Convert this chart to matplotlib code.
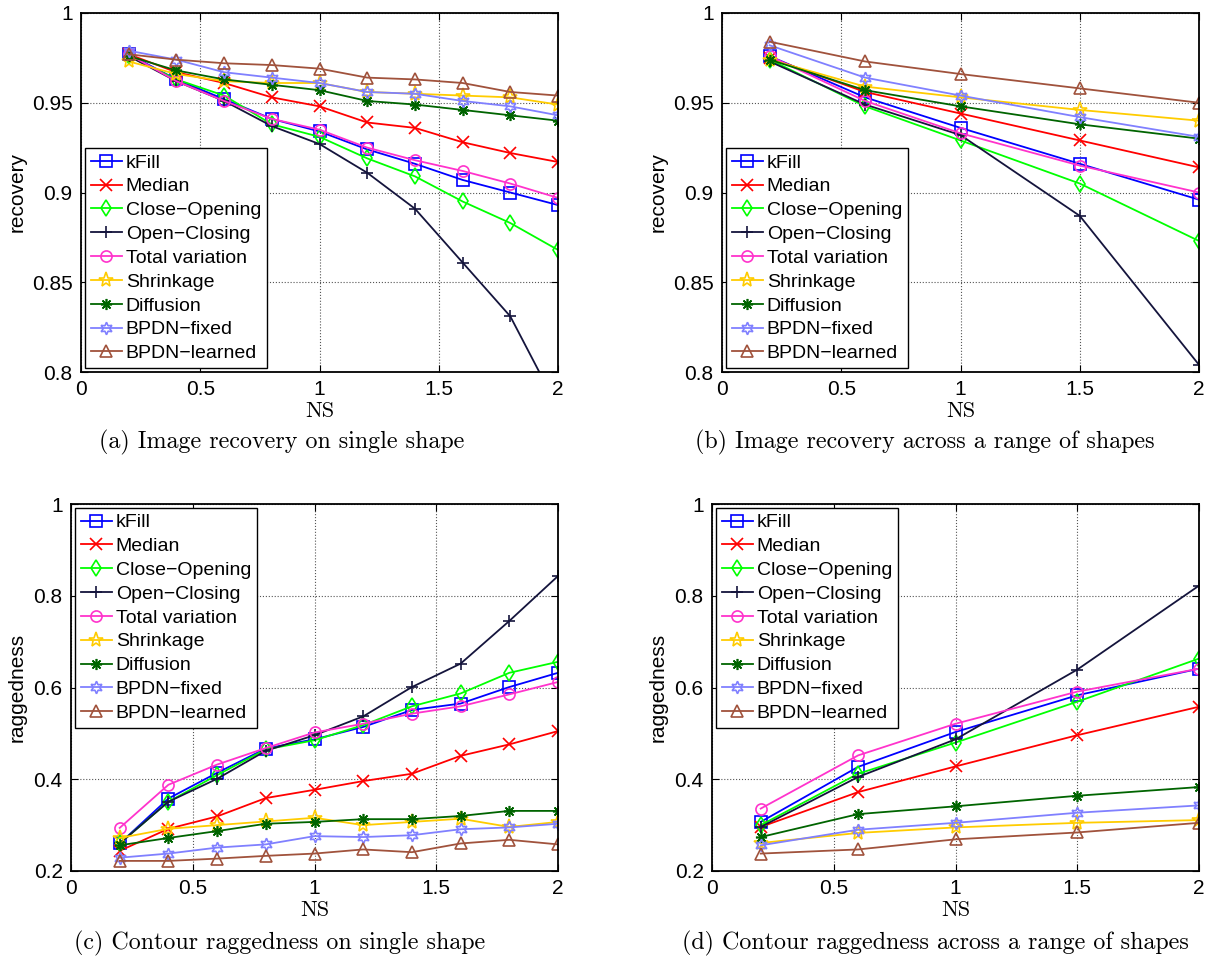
import numpy as np
import matplotlib
matplotlib.use('Agg')
import matplotlib.pyplot as plt
from matplotlib.ticker import FormatStrFormatter, MultipleLocator

plt.rcParams['font.family'] = ['Liberation Sans', 'DejaVu Sans']
plt.rcParams['axes.unicode_minus'] = True

# Data
methods = ['kFill', 'Median', 'Close\u2212Opening', 'Open\u2212Closing', 'Total variation',
           'Shrinkage', 'Diffusion', 'BPDN\u2212fixed', 'BPDN\u2212learned']
colors = ['#0000FF', '#FF0000', '#00FF00', '#14143C', '#FF33CC',
          '#FFCC00', '#006400', '#8080FF', '#A0523C']
markers = ['s', 'x', 'd', '+', 'o', '*', (8, 2, 0), (6, 1, 0), '^']
msizes = [8, 8, 8, 9, 8, 11, 8, 9, 9]

ns_single = [0.2, 0.4, 0.6, 0.8, 1.0, 1.2, 1.4, 1.6, 1.8, 2.0]
ns_range = [0.2, 0.6, 1.0, 1.5, 2.0]

recovery_single = [
    [0.977, 0.963, 0.952, 0.941, 0.934, 0.924, 0.916, 0.907, 0.900, 0.893],
    [0.977, 0.967, 0.961, 0.953, 0.948, 0.939, 0.936, 0.928, 0.922, 0.917],
    [0.976, 0.963, 0.954, 0.938, 0.931, 0.919, 0.909, 0.895, 0.883, 0.868],
    [0.976, 0.962, 0.951, 0.937, 0.927, 0.911, 0.891, 0.861, 0.831, 0.780],
    [0.977, 0.962, 0.951, 0.941, 0.935, 0.925, 0.918, 0.912, 0.905, 0.897],
    [0.973, 0.966, 0.962, 0.961, 0.961, 0.956, 0.955, 0.954, 0.953, 0.949],
    [0.976, 0.968, 0.963, 0.960, 0.957, 0.951, 0.949, 0.946, 0.943, 0.940],
    [0.979, 0.974, 0.967, 0.964, 0.961, 0.956, 0.955, 0.951, 0.948, 0.943],
    [0.977, 0.974, 0.972, 0.971, 0.969, 0.964, 0.963, 0.961, 0.956, 0.954],
]
recovery_range = [
    [0.976, 0.953, 0.936, 0.916, 0.896],
    [0.975, 0.956, 0.944, 0.929, 0.914],
    [0.974, 0.948, 0.929, 0.905, 0.873],
    [0.973, 0.949, 0.932, 0.887, 0.804],
    [0.976, 0.951, 0.933, 0.915, 0.900],
    [0.974, 0.959, 0.953, 0.946, 0.940],
    [0.974, 0.957, 0.948, 0.938, 0.930],
    [0.982, 0.964, 0.954, 0.942, 0.931],
    [0.984, 0.973, 0.966, 0.958, 0.950],
]
ragged_single = [
    [0.260, 0.358, 0.414, 0.467, 0.487, 0.514, 0.551, 0.565, 0.601, 0.632],
    [0.244, 0.292, 0.319, 0.359, 0.377, 0.396, 0.412, 0.451, 0.476, 0.505],
    [0.260, 0.351, 0.409, 0.465, 0.485, 0.518, 0.559, 0.587, 0.632, 0.656],
    [0.260, 0.351, 0.401, 0.462, 0.496, 0.537, 0.601, 0.652, 0.745, 0.843],
    [0.294, 0.388, 0.432, 0.468, 0.502, 0.521, 0.543, 0.559, 0.585, 0.612],
    [0.272, 0.292, 0.300, 0.308, 0.316, 0.300, 0.307, 0.314, 0.296, 0.307],
    [0.256, 0.272, 0.287, 0.303, 0.307, 0.313, 0.313, 0.320, 0.331, 0.331],
    [0.229, 0.238, 0.251, 0.258, 0.276, 0.274, 0.278, 0.291, 0.295, 0.303],
    [0.222, 0.222, 0.227, 0.233, 0.238, 0.247, 0.241, 0.260, 0.268, 0.258],
]
ragged_range = [
    [0.307, 0.427, 0.503, 0.583, 0.641],
    [0.296, 0.372, 0.428, 0.496, 0.558],
    [0.300, 0.412, 0.480, 0.569, 0.663],
    [0.296, 0.405, 0.487, 0.639, 0.822],
    [0.336, 0.452, 0.521, 0.591, 0.641],
    [0.261, 0.283, 0.295, 0.305, 0.311],
    [0.274, 0.324, 0.341, 0.364, 0.383],
    [0.256, 0.290, 0.305, 0.327, 0.343],
    [0.238, 0.247, 0.269, 0.284, 0.305],
]

captions = ['(a) Image recovery on single shape',
            '(b) Image recovery across a range of shapes',
            '(c) Contour raggedness on single shape',
            '(d) Contour raggedness across a range of shapes']

W, H = 1216, 961
fig = plt.figure(figsize=(W / 100, H / 100), dpi=100)


def px_axes(left, top, right, bottom):
    return fig.add_axes([left / W, 1 - bottom / H, (right - left) / W, (bottom - top) / H])


def draw_panel(ax, xs, series, ylim, ystep, ylabel, legend_loc, ylabel_x, xlabel_y):
    for vals, name, c, m, ms in zip(series, methods, colors, markers, msizes):
        ax.plot(xs, vals, color=c, marker=m, markersize=ms, markerfacecolor='none',
                markeredgecolor=c, markeredgewidth=1.2, linewidth=1.3, label=name)
    ax.set_xlim(0, 2)
    ax.set_ylim(*ylim)
    ax.xaxis.set_major_locator(MultipleLocator(0.5))
    ax.yaxis.set_major_locator(MultipleLocator(ystep))
    ax.xaxis.set_major_formatter(FormatStrFormatter('%g'))
    ax.yaxis.set_major_formatter(FormatStrFormatter('%g'))
    ax.tick_params(direction='in', length=5, width=0.8, labelsize=15, top=True, right=True,
                   pad=6)
    ax.grid(True, linestyle=':', color='#555555', linewidth=0.8)
    for s in ax.spines.values():
        s.set_linewidth(1.3)
    ax.set_xlabel('NS', fontfamily='cmr10', fontsize=16)
    ax.xaxis.set_label_coords(0.5, xlabel_y)
    ax.set_ylabel(ylabel, fontsize=15)
    ax.yaxis.set_label_coords(ylabel_x, 0.5)
    leg = ax.legend(loc=legend_loc, fontsize=14, labelspacing=0.32, handlelength=1.6,
                    handletextpad=0.2, borderpad=0.3, borderaxespad=0.2,
                    fancybox=False, framealpha=1, edgecolor='black')
    leg.get_frame().set_linewidth(1.0)


ax_a = px_axes(81, 13, 558, 372)
draw_panel(ax_a, ns_single, recovery_single, (0.8, 1.0), 0.05, 'recovery', 'lower left',
           -0.115, -0.081)
ax_b = px_axes(722, 13, 1199, 372)
draw_panel(ax_b, ns_range, recovery_range, (0.8, 1.0), 0.05, 'recovery', 'lower left',
           -0.115, -0.081)
ax_c = px_axes(71, 504, 558, 871)
draw_panel(ax_c, ns_single, ragged_single, (0.2, 1.0), 0.2, 'raggedness', 'upper left',
           -0.092, -0.079)
ax_d = px_axes(712, 504, 1199, 871)
draw_panel(ax_d, ns_range, ragged_range, (0.2, 1.0), 0.2, 'raggedness', 'upper left',
           -0.092, -0.079)

cap_pos = [(282, 442), (925, 442), (280, 943), (935, 943)]
for (cx, cy), txt in zip(cap_pos, captions):
    fig.text(cx / W, 1 - cy / H, txt, fontfamily='cmr10', fontsize=17.3,
             ha='center', va='center')

fig.savefig('out.png', dpi=100)
